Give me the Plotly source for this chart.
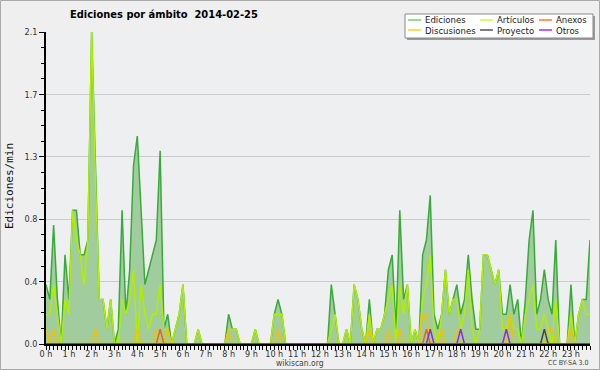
import plotly.graph_objects as go

# ---- data (10-minute bins, edits per minute) ----
hours = [f"{h} h" for h in range(24)]
bins = list(range(144))

ediciones = [
    0.4, 0.3, 0.8, 0.3, 0.0, 0.6, 0.3, 0.9, 0.9, 0.6, 0.6, 0.7,
    2.1, 1.2, 0.3, 0.3, 0.1, 0.3, 0.0, 0.1, 0.9, 0.2, 0.5, 1.2,
    1.4, 0.9, 0.4, 0.5, 0.6, 0.7, 1.3, 0.1, 0.2, 0.0, 0.1, 0.2,
    0.4, 0.0, 0.0, 0.0, 0.1, 0.0, 0.0, 0.0, 0.0, 0.0, 0.0, 0.0,
    0.2, 0.1, 0.1, 0.0, 0.0, 0.0, 0.0, 0.1, 0.0, 0.0, 0.0, 0.0,
    0.2, 0.3, 0.2, 0.0, 0.0, 0.0, 0.0, 0.0, 0.0, 0.0, 0.0, 0.0,
    0.0, 0.0, 0.0, 0.4, 0.2, 0.0, 0.0, 0.1, 0.0, 0.4, 0.3, 0.1,
    0.0, 0.3, 0.0, 0.1, 0.1, 0.2, 0.5, 0.6, 0.1, 0.9, 0.3, 0.4,
    0.0, 0.1, 0.0, 0.6, 0.7, 1.0, 0.2, 0.1, 0.2, 0.5, 0.2, 0.3,
    0.4, 0.2, 0.3, 0.6, 0.3, 0.1, 0.1, 0.6, 0.6, 0.5, 0.4, 0.5,
    0.2, 0.2, 0.4, 0.2, 0.3, 0.0, 0.3, 0.7, 0.9, 0.2, 0.3, 0.5,
    0.3, 0.2, 0.7, 0.0, 0.0, 0.0, 0.4, 0.0, 0.2, 0.3, 0.3, 0.7,
]
articulos = [
    0.2, 0.2, 0.4, 0.2, 0.0, 0.3, 0.2, 0.9, 0.7, 0.6, 0.4, 0.7,
    2.1, 1.1, 0.3, 0.3, 0.1, 0.3, 0.0, 0.0, 0.3, 0.2, 0.3, 0.5,
    0.0, 0.4, 0.2, 0.1, 0.2, 0.2, 0.4, 0.1, 0.1, 0.0, 0.1, 0.2,
    0.4, 0.0, 0.0, 0.0, 0.1, 0.0, 0.0, 0.0, 0.0, 0.0, 0.0, 0.0,
    0.1, 0.1, 0.1, 0.0, 0.0, 0.0, 0.0, 0.1, 0.0, 0.0, 0.0, 0.0,
    0.2, 0.2, 0.2, 0.0, 0.0, 0.0, 0.0, 0.0, 0.0, 0.0, 0.0, 0.0,
    0.0, 0.0, 0.0, 0.1, 0.2, 0.0, 0.0, 0.1, 0.0, 0.4, 0.3, 0.1,
    0.0, 0.2, 0.0, 0.1, 0.1, 0.2, 0.3, 0.4, 0.0, 0.4, 0.2, 0.4,
    0.0, 0.1, 0.0, 0.3, 0.4, 0.6, 0.1, 0.0, 0.2, 0.5, 0.2, 0.3,
    0.3, 0.1, 0.2, 0.5, 0.1, 0.0, 0.1, 0.6, 0.6, 0.5, 0.4, 0.5,
    0.1, 0.1, 0.2, 0.1, 0.1, 0.0, 0.2, 0.3, 0.4, 0.1, 0.1, 0.2,
    0.1, 0.0, 0.3, 0.0, 0.0, 0.0, 0.2, 0.0, 0.2, 0.3, 0.2, 0.2,
]
discusiones = [0.0] * 144
for i, v in [(0, 0.1), (2, 0.1), (13, 0.1), (24, 0.1), (29, 0.1), (32, 0.1),
             (48, 0.1), (61, 0.1), (85, 0.1), (90, 0.1), (93, 0.1), (99, 0.2),
             (100, 0.2), (104, 0.1), (108, 0.1), (122, 0.2), (132, 0.1),
             (133, 0.1), (138, 0.1)]:
    discusiones[i] = v
anexos = [0.0] * 144
for i, v in [(30, 0.1), (100, 0.1)]:
    anexos[i] = v
proyecto = [0.0] * 144
for i, v in [(131, 0.1)]:
    proyecto[i] = v
otros = [0.0] * 144
for i, v in [(101, 0.1), (109, 0.1), (121, 0.1)]:
    otros[i] = v

y_tickvals = [0, 0.42, 0.84, 1.26, 1.68, 2.1]
y_ticktext = ["0.0", "0.4", "0.8", "1.3", "1.7", "2.1"]

series = [
    ("Artículos", articulos, "#b2ee00"),
    ("Discusiones", discusiones, "#f2c200"),
    ("Anexos", anexos, "#ee6020"),
    ("Proyecto", proyecto, "#444444"),
    ("Otros", otros, "#8a2be2"),
]

# ---- figure ----
W, H = 600, 370
ML, MR, MT, MB = 46, 10, 32, 26
PW, PH = W - ML - MR, H - MT - MB


def px(x):
    return (x - ML) / PW


def py(y):
    return (H - MB - y) / PH


fig = go.Figure()
fig.add_trace(go.Scatter(
    x=bins, y=ediciones, mode="lines", name="Ediciones",
    line=dict(color="#3aaa3a", width=1.5), fill="tozeroy",
    fillcolor="#a0cc9e", showlegend=False))
for name, vals, col in series:
    fig.add_trace(go.Scatter(
        x=bins, y=vals, mode="lines", name=name,
        line=dict(color=col, width=1.5), showlegend=False))

font_main = "DejaVu Sans Condensed, DejaVu Sans, sans-serif"

fig.update_layout(
    width=W, height=H,
    margin=dict(l=ML, r=MR, t=MT, b=MB, autoexpand=False),
    paper_bgcolor="#efefef", plot_bgcolor="#eeeff1",
    font=dict(family=font_main, size=9, color="#333"),
    xaxis=dict(
        range=[0, 143], tickvals=list(range(0, 144, 6)), ticktext=hours,
        ticks="outside", ticklen=4, tickcolor="black", tickwidth=1,
        showline=True, linecolor="black", linewidth=2, showgrid=False,
        zeroline=False, automargin=False, ticklabelstandoff=-4,
        tickfont=dict(size=9, color="#333"),
        minor=dict(dtick=1, tick0=0, ticks="outside", ticklen=4,
                   tickcolor="black", showgrid=False),
    ),
    yaxis=dict(
        range=[0, 2.1], tickvals=y_tickvals, ticktext=y_ticktext,
        ticks="outside", ticklen=5, tickcolor="black",
        showline=True, linecolor="black", linewidth=1.5, automargin=False,
        showgrid=True, gridcolor="#cccccc", gridwidth=1, zeroline=False,
        tickfont=dict(size=9, color="#333"),
        minor=dict(dtick=0.105, tick0=0, ticks="outside", ticklen=3,
                   tickcolor="black", showgrid=False),
    ),
)

annotations = [
    dict(text="<b>Ediciones por ámbito  2014-02-25</b>", x=px(164), y=py(15),
         font=dict(size=11, color="black", family=font_main)),
    dict(text="Ediciones/min", x=px(9), y=py(186), textangle=-90,
         font=dict(size=11, color="#111", family="DejaVu Sans Mono, monospace")),
    dict(text="wikiscan.org", x=px(300), y=py(363),
         font=dict(size=8.5, color="#444")),
    dict(text="CC BY-SA 3.0", x=px(590), y=py(363), xanchor="right",
         font=dict(size=7, color="#444")),
]

shapes = [
    # outer frame
    dict(type="rect", x0=px(0.5), x1=px(599.5), y0=py(0.5), y1=py(369.5),
         line=dict(color="#aaaaaa", width=1)),
    # legend shadow + box
    dict(type="rect", x0=px(407), x1=px(595), y0=py(16), y1=py(40),
         fillcolor="#9a9a9a", line=dict(width=0)),
    dict(type="rect", x0=px(405), x1=px(593), y0=py(14), y1=py(38),
         fillcolor="white", line=dict(color="#888888", width=1)),
]

legend_items = [
    ("Ediciones", "#77cc77", 408, 20),
    ("Artículos", "#ccff33", 480, 20),
    ("Anexos", "#ff7733", 539, 20),
    ("Discusiones", "#ffcc33", 408, 30),
    ("Proyecto", "#555555", 480, 30),
    ("Otros", "#9933ff", 539, 30),
]
for name, col, lx, ly in legend_items:
    shapes.append(dict(type="line", x0=px(lx), x1=px(lx + 13), y0=py(ly), y1=py(ly),
                       line=dict(color=col, width=1.5)))
    annotations.append(dict(text=name, x=px(lx + 15), y=py(ly), xanchor="left",
                            font=dict(size=9.5, color="#222")))

for s in shapes:
    s.update(xref="paper", yref="paper")

for a in annotations:
    a.update(xref="paper", yref="paper", showarrow=False)
    a.setdefault("xanchor", "center")
    a.setdefault("yanchor", "middle")

fig.update_layout(annotations=annotations, shapes=shapes)
fig.write_html(
    "out.html",
    config={"displayModeBar": False},
    post_script="document.body.style.margin='0';document.body.style.padding='0';"
                "document.documentElement.style.overflow='hidden';",
)
